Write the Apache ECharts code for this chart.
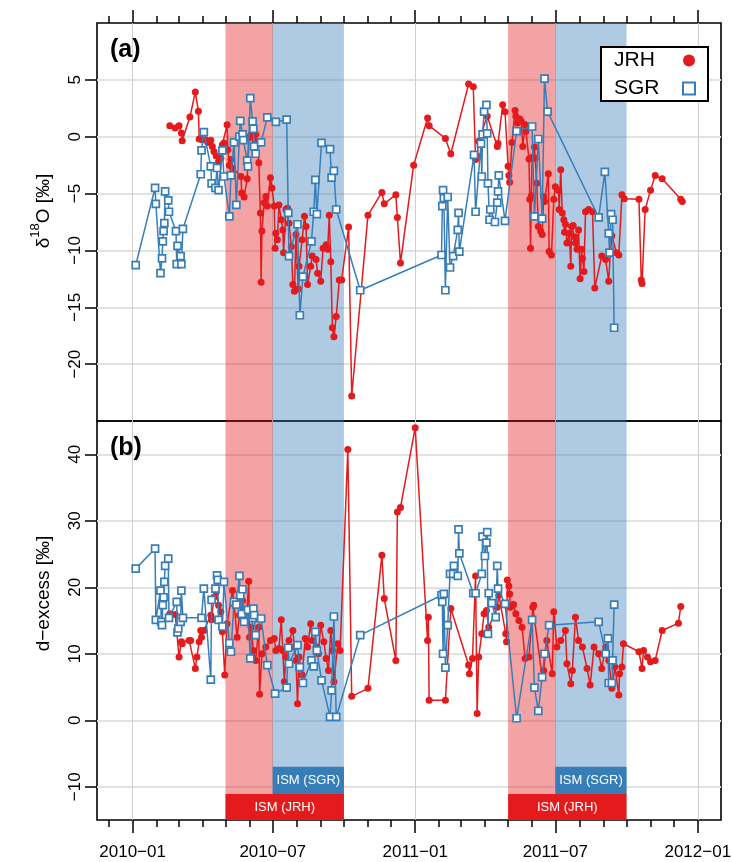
<!DOCTYPE html>
<html>
<head>
<meta charset="utf-8">
<script src="https://cdn.jsdelivr.net/npm/echarts@6/dist/echarts.min.js"></script>
<style>
  html, body { margin: 0; padding: 0; background: #fff; }
  #chart { width: 732px; height: 862px; }
</style>
</head>
<body>
<div id="chart"></div>
<script>
// ---- δ18O, JRH ----
const jrhO18Dates = ['2010-02-18','2010-02-25','2010-03-02','2010-03-05','2010-03-06','2010-03-16','2010-03-23','2010-03-27','2010-03-28','2010-04-01','2010-04-05','2010-04-08','2010-04-12','2010-04-14','2010-04-16','2010-04-19','2010-04-22','2010-04-25','2010-04-27','2010-04-29','2010-05-03','2010-05-04','2010-05-06','2010-05-08','2010-05-10','2010-05-21','2010-05-22','2010-05-25','2010-05-29','2010-05-31','2010-06-03','2010-06-07','2010-06-09','2010-06-13','2010-06-15','2010-06-16','2010-06-17','2010-06-20','2010-06-22','2010-06-24','2010-06-28','2010-06-30','2010-07-03','2010-07-04','2010-07-05','2010-07-07','2010-07-09','2010-07-12','2010-07-14','2010-07-15','2010-07-18','2010-07-20','2010-07-22','2010-07-25','2010-07-27','2010-07-29','2010-07-31','2010-08-03','2010-08-04','2010-08-08','2010-08-11','2010-08-13','2010-08-15','2010-08-19','2010-08-21','2010-08-26','2010-08-28','2010-09-01','2010-09-04','2010-09-08','2010-09-10','2010-09-12','2010-09-14','2010-09-16','2010-09-18','2010-09-21','2010-09-25','2010-09-28','2010-10-07','2010-10-11','2010-11-01','2010-11-19','2010-11-22','2010-12-07','2010-12-09','2010-12-13','2010-12-30','2011-01-17','2011-01-19','2011-02-09','2011-02-16','2011-03-11','2011-03-17','2011-03-20','2011-03-22','2011-03-24','2011-04-04','2011-04-17','2011-04-18','2011-04-24','2011-04-27','2011-05-01','2011-05-02','2011-05-03','2011-05-06','2011-05-10','2011-05-11','2011-05-13','2011-05-16','2011-05-18','2011-05-20','2011-05-23','2011-05-24','2011-05-28','2011-05-29','2011-05-30','2011-05-31','2011-06-01','2011-06-04','2011-06-05','2011-06-07','2011-06-09','2011-06-12','2011-06-14','2011-06-16','2011-06-17','2011-06-22','2011-06-23','2011-06-26','2011-06-29','2011-07-01','2011-07-05','2011-07-06','2011-07-08','2011-07-10','2011-07-12','2011-07-13','2011-07-14','2011-07-16','2011-07-19','2011-07-21','2011-07-22','2011-07-24','2011-07-26','2011-07-27','2011-07-29','2011-07-31','2011-08-02','2011-08-04','2011-08-05','2011-08-07','2011-08-09','2011-08-13','2011-08-18','2011-08-21','2011-08-30','2011-09-04','2011-09-08','2011-09-10','2011-09-12','2011-09-18','2011-09-21','2011-09-25','2011-09-28','2011-10-17','2011-10-20','2011-10-21','2011-10-25','2011-11-01','2011-11-07','2011-11-16','2011-12-10','2011-12-12'];
const jrhO18 = [0.97,0.77,0.97,0.33,-0.35,1.73,3.93,2.23,-0.2,-0.26,-0.26,-0.5,-0.3,-0.85,-1.3,-1.7,-2.2,-1.9,-0.7,-0.55,1.05,-1.15,-2.5,-2.0,-2.75,-3.5,-4.95,-5.3,-3.7,-0.1,0.2,-1.0,0.2,-2.3,-6.7,-12.8,-8.3,-5.8,-5.25,-6.1,-3.6,-4.5,-6.1,-9.8,-8.5,-9.05,-6.0,-7.3,-8.2,-10.2,-6.4,-6.3,-7.6,-9.65,-13.0,-13.6,-8.6,-13.4,-11.4,-9.05,-7.0,-7.9,-13.0,-11.4,-10.5,-10.8,-12.0,-12.7,-9.8,-9.5,-9.9,-6.9,-11.0,-16.8,-17.6,-15.8,-12.6,-12.6,-7.95,-22.8,-6.9,-4.9,-5.9,-5.1,-7.1,-11.1,-2.5,1.65,0.97,-0.15,-1.5,4.63,4.4,-2.0,-1.7,-0.4,1.8,-0.85,-0.6,2.8,2.2,-2.6,-3.4,-4.0,-0.5,2.3,1.8,1.2,1.55,1.35,-0.85,1.05,0.47,-1.95,-5.5,-9.8,-5.2,-1.8,-0.9,-1.9,-4.1,-7.9,-8.3,-8.6,-5.25,-5.7,-3.25,-10.1,-10.4,-5.5,-4.4,-4.7,-6.4,-2.9,-6.7,-7.3,-8.4,-7.7,-9.35,-8.5,-11.4,-7.9,-7.8,-8.8,-9.35,-9.9,-8.2,-12.5,-9.9,-10.7,-11.85,-6.6,-6.4,-6.6,-13.3,-10.5,-10.8,-12.7,-10.2,-8.7,-10.2,-10.4,-5.1,-5.45,-5.5,-12.6,-12.9,-6.4,-4.7,-3.4,-3.7,-5.5,-5.7];

// ---- δ18O, SGR ----
const sgrO18Dates = ['2010-01-05','2010-01-30','2010-01-31','2010-02-06','2010-02-08','2010-02-09','2010-02-10','2010-02-11','2010-02-12','2010-02-16','2010-02-17','2010-02-26','2010-02-27','2010-02-28','2010-03-04','2010-03-05','2010-03-07','2010-03-30','2010-03-31','2010-04-03','2010-04-12','2010-04-13','2010-04-18','2010-04-20','2010-04-22','2010-04-27','2010-04-29','2010-05-06','2010-05-08','2010-05-12','2010-05-15','2010-05-19','2010-05-20','2010-05-23','2010-05-24','2010-05-29','2010-05-30','2010-06-02','2010-06-05','2010-06-06','2010-06-07','2010-06-09','2010-06-16','2010-06-24','2010-07-05','2010-07-19','2010-07-21','2010-07-22','2010-08-02','2010-08-05','2010-08-09','2010-08-20','2010-08-23','2010-08-25','2010-08-27','2010-09-02','2010-09-13','2010-09-15','2010-09-18','2010-09-21','2010-10-22','2011-02-04','2011-02-05','2011-02-06','2011-02-07','2011-02-09','2011-02-12','2011-02-15','2011-02-19','2011-02-25','2011-02-26','2011-02-27','2011-03-18','2011-03-20','2011-03-27','2011-03-28','2011-03-29','2011-03-31','2011-04-03','2011-04-04','2011-04-05','2011-04-07','2011-04-08','2011-04-14','2011-04-17','2011-04-18','2011-04-19','2011-04-27','2011-05-12','2011-06-01','2011-06-04','2011-06-09','2011-06-14','2011-06-17','2011-06-21','2011-08-26','2011-09-03','2011-09-08','2011-09-09','2011-09-11','2011-09-13','2011-09-15'];
const sgrO18 = [-11.3,-4.5,-5.9,-12.0,-10.7,-9.2,-8.3,-7.6,-4.8,-5.6,-6.6,-8.3,-11.2,-9.6,-10.5,-11.2,-8.1,-3.3,-1.2,0.4,-2.6,-4.1,-4.5,-2.75,-4.7,-1.2,-3.5,-7.0,-3.4,-0.5,-6.0,0.0,1.4,0.2,-0.3,-2.1,-2.6,3.4,1.35,0.7,-0.85,-1.5,-0.5,1.7,1.3,1.5,-6.7,-10.5,-7.7,-15.7,-12.3,-9.2,-6.6,-3.8,-6.8,-0.55,-1.1,-3.6,-3.0,-6.4,-13.5,-10.4,-6.1,-4.7,-5.4,-13.5,-5.3,-11.5,-10.5,-8.2,-6.7,-10.1,-1.6,-6.6,-0.6,-3.5,0.2,2.2,2.8,0.3,-4.1,-7.3,-6.4,-7.5,-5.8,-4.8,-3.4,-7.4,0.5,0.9,-7.0,-0.2,-7.2,5.1,2.2,-7.1,-3.1,-8.5,-10.2,-6.8,-7.3,-16.8];

// ---- d-excess, JRH ----
const jrhDexDates = ['2010-02-18','2010-02-25','2010-03-02','2010-03-05','2010-03-06','2010-03-15','2010-03-17','2010-03-23','2010-03-25','2010-03-28','2010-03-30','2010-03-31','2010-04-03','2010-04-12','2010-04-13','2010-04-16','2010-04-19','2010-04-22','2010-04-25','2010-04-27','2010-04-30','2010-05-03','2010-05-10','2010-05-12','2010-05-16','2010-05-19','2010-05-23','2010-05-28','2010-05-31','2010-06-01','2010-06-03','2010-06-06','2010-06-09','2010-06-13','2010-06-14','2010-06-17','2010-06-22','2010-06-28','2010-07-03','2010-07-05','2010-07-09','2010-07-12','2010-07-14','2010-07-16','2010-07-18','2010-07-22','2010-07-27','2010-07-29','2010-07-31','2010-08-02','2010-08-04','2010-08-08','2010-08-12','2010-08-15','2010-08-19','2010-08-21','2010-08-26','2010-08-29','2010-09-01','2010-09-05','2010-09-08','2010-09-11','2010-09-14','2010-09-16','2010-09-18','2010-09-23','2010-09-26','2010-10-06','2010-10-11','2010-11-01','2010-11-19','2010-11-22','2010-12-07','2010-12-09','2010-12-13','2011-01-01','2011-01-17','2011-01-18','2011-01-19','2011-02-09','2011-02-16','2011-03-11','2011-03-12','2011-03-16','2011-03-20','2011-03-22','2011-03-24','2011-03-28','2011-03-31','2011-04-03','2011-04-06','2011-04-17','2011-04-19','2011-04-28','2011-04-29','2011-04-30','2011-05-02','2011-05-03','2011-05-04','2011-05-08','2011-05-11','2011-05-15','2011-05-19','2011-05-23','2011-05-28','2011-06-02','2011-06-03','2011-06-14','2011-06-16','2011-06-20','2011-06-27','2011-06-29','2011-07-03','2011-07-08','2011-07-14','2011-07-16','2011-07-21','2011-07-23','2011-07-27','2011-07-31','2011-08-05','2011-08-11','2011-08-15','2011-08-20','2011-08-26','2011-08-30','2011-09-04','2011-09-08','2011-09-12','2011-09-16','2011-09-21','2011-09-22','2011-09-25','2011-09-27','2011-10-17','2011-10-21','2011-10-23','2011-10-28','2011-11-01','2011-11-07','2011-11-16','2011-12-07','2011-12-10'];
const jrhDex = [16.0,15.9,9.5,11.8,11.5,12.0,12.0,7.8,9.5,11.8,13.5,12.5,13.5,15.8,15.1,18.5,19.3,17.3,16.3,13.3,6.8,14.5,19.5,17.5,12.5,15.8,18.0,15.0,20.9,12.5,14.0,10.5,9.0,14.0,3.9,10.0,11.0,12.0,12.3,10.5,10.8,15.1,10.5,5.8,9.5,12.0,13.5,11.0,9.0,2.5,9.5,6.8,12.3,11.0,14.5,12.0,11.0,10.0,14.3,11.8,9.3,7.5,13.5,10.5,5.8,11.5,10.5,40.7,3.6,4.8,24.8,18.3,9.0,31.3,32.0,44.0,12.0,15.5,3.0,3.0,16.8,8.3,7.0,9.3,21.7,1.0,9.5,13.0,16.0,16.5,14.0,17.0,18.8,13.0,11.8,21.1,20.2,19.0,17.0,17.4,16.0,15.0,14.0,9.3,9.5,17.0,17.3,6.5,7.5,12.0,7.0,16.3,11.0,12.0,13.5,8.5,5.5,7.5,15.5,12.0,11.0,7.8,5.3,11.0,10.0,7.8,11.0,9.0,4.8,8.0,3.8,7.0,8.0,11.5,10.3,7.8,10.5,9.5,8.8,9.0,13.5,14.6,17.1];

// ---- d-excess, SGR ----
const sgrDexDates = ['2010-01-05','2010-01-30','2010-01-31','2010-02-06','2010-02-07','2010-02-08','2010-02-09','2010-02-10','2010-02-11','2010-02-12','2010-02-16','2010-02-17','2010-02-27','2010-02-28','2010-03-01','2010-03-04','2010-03-05','2010-03-07','2010-03-31','2010-04-03','2010-04-12','2010-04-13','2010-04-18','2010-04-20','2010-04-21','2010-04-22','2010-04-27','2010-04-29','2010-05-06','2010-05-08','2010-05-12','2010-05-15','2010-05-19','2010-05-20','2010-05-22','2010-05-23','2010-05-25','2010-05-30','2010-06-02','2010-06-05','2010-06-06','2010-06-07','2010-06-09','2010-06-16','2010-06-24','2010-07-04','2010-07-19','2010-07-21','2010-07-22','2010-08-02','2010-08-05','2010-08-09','2010-08-20','2010-08-23','2010-08-25','2010-08-27','2010-09-02','2010-09-13','2010-09-15','2010-09-18','2010-09-21','2010-10-22','2011-02-04','2011-02-05','2011-02-06','2011-02-07','2011-02-09','2011-02-12','2011-02-15','2011-02-19','2011-02-20','2011-02-25','2011-02-26','2011-02-27','2011-03-17','2011-03-20','2011-03-28','2011-03-29','2011-04-01','2011-04-03','2011-04-04','2011-04-05','2011-04-06','2011-04-10','2011-04-15','2011-04-17','2011-04-18','2011-04-27','2011-05-12','2011-06-01','2011-06-04','2011-06-09','2011-06-14','2011-06-17','2011-06-23','2011-08-26','2011-09-04','2011-09-07','2011-09-08','2011-09-12','2011-09-13','2011-09-15'];
const sgrDex = [22.8,25.8,15.1,19.5,14.8,14.3,17.3,18.5,20.8,23.2,24.3,15.4,17.8,13.2,13.8,14.8,19.5,15.4,15.4,19.8,6.1,18.1,19.8,21.8,21.1,15.1,14.1,20.8,11.6,10.3,17.8,17.4,21.7,18.8,16.0,19.7,14.8,16.6,9.3,15.4,16.8,15.8,12.8,15.3,8.3,4.0,4.9,10.9,8.5,11.3,8.0,5.6,9.0,8.1,13.3,10.5,6.0,0.5,4.5,15.6,0.5,12.8,18.8,17.8,10.0,19.0,7.9,14.3,22.0,22.0,23.2,21.7,28.7,25.1,19.1,19.1,22.0,27.6,24.7,26.7,28.3,13.0,19.1,17.6,15.5,23.2,19.8,17.5,0.3,15.1,4.9,1.4,6.5,10.0,14.3,14.8,10.0,12.3,5.6,5.6,9.0,17.4];

// ---- shaded monsoon periods and axis ticks ----
const ismJrhPeriods = [['2010-05-01', '2010-07-01'], ['2011-05-01', '2011-07-01']];
const ismSgrPeriods = [['2010-07-01', '2010-10-01'], ['2011-07-01', '2011-10-01']];
const ismBarPeriods = [['2010-05-01', '2010-10-01'], ['2011-05-01', '2011-10-01']];
const majorTickLabels = ['2010-01', '2010-07', '2011-01', '2011-07', '2012-01'];
const o18Ticks = [-20, -15, -10, -5, 0, 5];
const dexTicks = [-10, 0, 10, 20, 30, 40];

const RED = '#E41A1C';
const BLUE = '#377EB8';
const FONT = '"Liberation Sans", Arial, sans-serif';

// dates are placed on a linear millisecond scale
function ts(str) {
  const p = str.split('-').map(Number);
  return new Date(p[0], p[1] - 1, p[2] || 1).getTime();
}
const zip = (d, v) => d.map((x, i) => [ts(x), v[i]]);

// month starts for the minor ticks
const monthTicks = [];
for (let y = 2009, m = 11; y < 2012 || (y === 2012 && m === 0); ) {
  monthTicks.push(new Date(y, m, 1).getTime());
  m++; if (m > 11) { m = 0; y++; }
}
const majorTicks = majorTickLabels.map(ts);

const tMin = new Date(2009, 10, 16).getTime();
const tMax = new Date(2012, 0, 31).getTime();

const minus = v => String(v).replace('-', '\u2212');
const monthLabel = v => {
  const d = new Date(v);
  return d.getFullYear() + '\u2212' + String(d.getMonth() + 1).padStart(2, '0');
};

function xAxisPair(gridIndex, position, withLabels) {
  const base = {
    type: 'value', gridIndex, position, min: tMin, max: tMax, scale: true,
    axisLine: { show: false, onZero: false },
    axisLabel: { show: false },
    splitLine: { show: false }
  };
  return [
    Object.assign({}, base, {
      axisTick: { show: true, customValues: monthTicks, length: 7, lineStyle: { color: '#000', width: 1.5 } }
    }),
    Object.assign({}, base, {
      axisTick: { show: true, customValues: majorTicks, length: 13, lineStyle: { color: '#000', width: 1.5 } },
      splitLine: { show: true, lineStyle: { color: '#cfcfcf', width: 1 } },
      axisLabel: withLabels ? {
        show: true, customValues: majorTicks, margin: 24, fontSize: 17, color: '#000', fontFamily: FONT,
        formatter: monthLabel
      } : { show: false }
    })
  ];
}

function yAxisCfg(gridIndex, min, max, ticks, name, shift) {
  return {
    type: 'value', gridIndex, min, max, interval: 5,
    axisLine: { show: false, onZero: false },
    axisTick: { show: true, customValues: ticks, length: 12, lineStyle: { color: '#000', width: 1.5 } },
    axisLabel: { customValues: ticks, rotate: 90, margin: 13, fontSize: 17, color: '#000', fontFamily: FONT, formatter: minus },
    splitLine: { show: true, lineStyle: { color: '#e2e2e2', width: 2 } },
    name, nameLocation: 'middle', nameRotate: 90, nameGap: 44,
    nameTextStyle: {
      fontSize: 19, color: '#000', fontFamily: FONT, padding: [0, 0, 0, shift],
      rich: {
        a: { fontSize: 19, fontFamily: FONT, color: '#000', lineHeight: 24, verticalAlign: 'bottom' },
        s: { fontSize: 13, fontFamily: FONT, color: '#000', lineHeight: 24, verticalAlign: 'top' }
      }
    }
  };
}

function shadeData(periods, color) {
  return periods.map(p => [{ xAxis: ts(p[0]), itemStyle: { color } }, { xAxis: ts(p[1]) }]);
}

function barData(periods, yLow, yHigh, color, label) {
  return periods.map(p => [
    { name: label, xAxis: ts(p[0]), yAxis: yLow, itemStyle: { color, opacity: 1 } },
    { xAxis: ts(p[1]), yAxis: yHigh }
  ]);
}

function lineSeries(name, data, xi, yi, station) {
  const isJ = station === 'JRH';
  return {
    name, type: 'line', xAxisIndex: xi, yAxisIndex: yi, data,
    z: isJ ? 3 : 4,
    symbol: isJ ? 'circle' : 'rect',
    symbolSize: 7,
    showAllSymbol: true,
    lineStyle: { color: isJ ? RED : BLUE, width: 1.5 },
    itemStyle: isJ ? { color: RED, borderWidth: 0 } : { color: '#fff', borderColor: BLUE, borderWidth: 1.7 },
    emphasis: { disabled: true },
    animation: false
  };
}

const chart = echarts.init(document.getElementById('chart'), null, { renderer: 'canvas' });

const gridBase = { left: 97, right: 11, show: true, borderColor: '#000', borderWidth: 1.6, backgroundColor: 'transparent', containLabel: false, outerBoundsMode: 'none' };

const option = {
  animation: false,
  backgroundColor: '#fff',
  textStyle: { fontFamily: FONT },
  grid: [
    Object.assign({ top: 23, height: 398 }, gridBase),
    Object.assign({ top: 421, height: 399 }, gridBase)
  ],
  xAxis: [].concat(xAxisPair(0, 'top', false), xAxisPair(1, 'bottom', true)),
  yAxis: [
    yAxisCfg(0, -25, 10, o18Ticks, '{a|\u03b4}{s|18}{a|O [\u2030]}', 22),
    yAxisCfg(1, -15, 45, dexTicks, '{a|d\u2212excess [\u2030]}', 54)
  ],
  legend: {
    top: 47, right: 24, orient: 'vertical', align: 'right',
    backgroundColor: '#fff', borderColor: '#000', borderWidth: 2,
    padding: [3, 12, 2, 13], itemGap: 7, itemWidth: 12, itemHeight: 12,
    formatter: name => '{n|' + name + '}',
    textStyle: {
      fontSize: 21, color: '#000', fontFamily: FONT, lineHeight: 20,
      rich: { n: { fontSize: 21, fontFamily: FONT, color: '#000', width: 64, align: 'left', lineHeight: 20 } }
    },
    selectedMode: false,
    data: [
      { name: 'JRH', icon: 'circle', itemStyle: { color: RED, borderWidth: 0 } },
      { name: 'SGR', icon: 'rect', itemStyle: { color: '#fff', borderColor: BLUE, borderWidth: 2 } }
    ]
  },
  graphic: [
    { type: 'text', left: 110, top: 38, z: 10, style: { text: '(a)', font: 'bold 25px ' + FONT, fill: '#000' } },
    { type: 'text', left: 110, top: 436, z: 10, style: { text: '(b)', font: 'bold 25px ' + FONT, fill: '#000' } }
  ],
  series: [
    {
      type: 'line', xAxisIndex: 0, yAxisIndex: 0, data: [], z: 1, silent: true,
      markArea: { silent: true, label: { show: false },
        data: [].concat(shadeData(ismJrhPeriods, 'rgba(228,26,28,0.4)'), shadeData(ismSgrPeriods, 'rgba(55,126,184,0.4)')) }
    },
    {
      type: 'line', xAxisIndex: 2, yAxisIndex: 1, data: [], z: 1, silent: true,
      markArea: { silent: true, label: { show: false },
        data: [].concat(shadeData(ismJrhPeriods, 'rgba(228,26,28,0.4)'), shadeData(ismSgrPeriods, 'rgba(55,126,184,0.4)')) }
    },
    {
      type: 'line', xAxisIndex: 2, yAxisIndex: 1, data: [], z: 2, silent: true,
      markArea: {
        silent: true,
        label: { show: true, position: 'inside', color: '#fff', fontSize: 13, fontFamily: FONT },
        data: [].concat(barData(ismBarPeriods, -15, -11.1, RED, 'ISM (JRH)'), barData(ismSgrPeriods, -11.1, -7.0, BLUE, 'ISM (SGR)'))
      }
    },
    lineSeries('JRH', zip(jrhO18Dates, jrhO18), 0, 0, 'JRH'),
    lineSeries('SGR', zip(sgrO18Dates, sgrO18), 0, 0, 'SGR'),
    lineSeries('JRH', zip(jrhDexDates, jrhDex), 2, 1, 'JRH'),
    lineSeries('SGR', zip(sgrDexDates, sgrDex), 2, 1, 'SGR')
  ]
};

chart.setOption(option);
</script>
</body>
</html>
